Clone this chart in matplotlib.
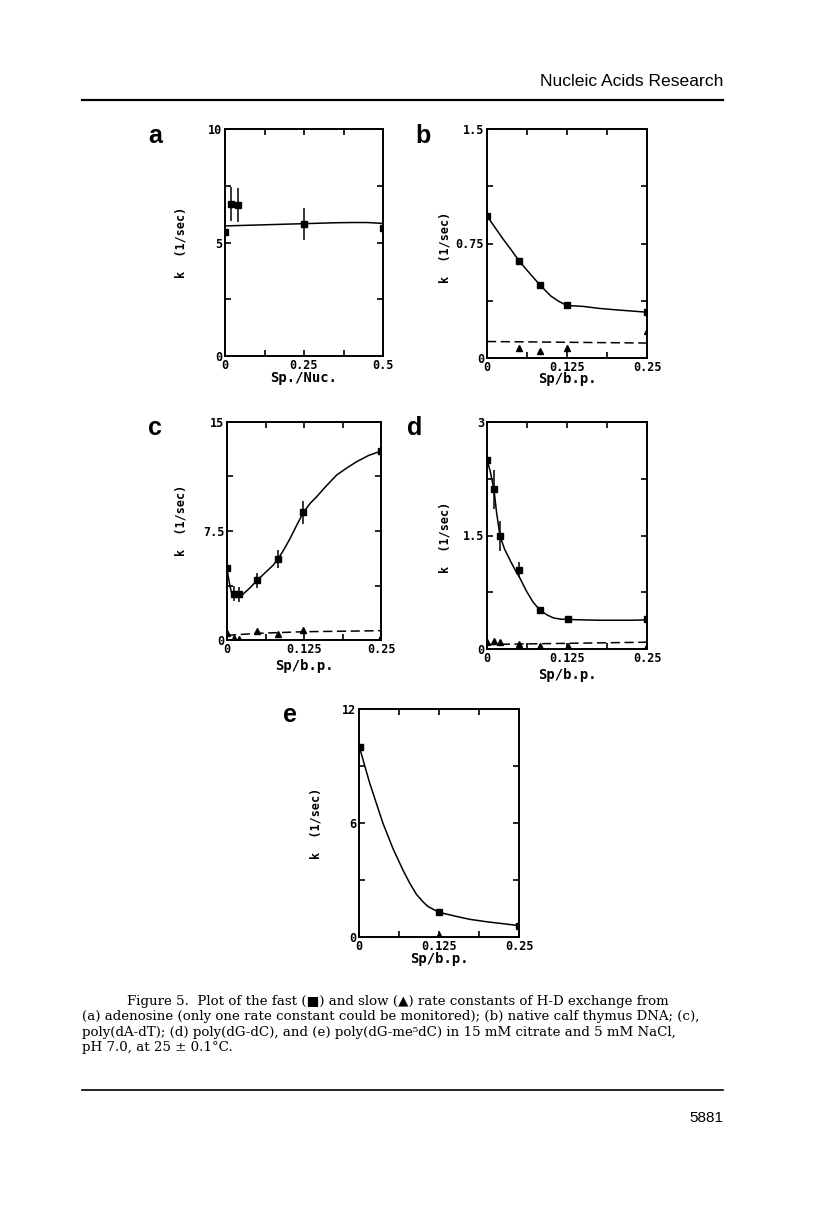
import matplotlib
matplotlib.use('Agg')
import matplotlib.pyplot as plt
from matplotlib.lines import Line2D

W, H = 816, 1227

# ---- data ----
# (a) adenosine
a_sq_x = [0.0, 0.018, 0.04, 0.25, 0.5]
a_sq_y = [5.46, 6.68, 6.64, 5.83, 5.64]
a_sq_err = [0, 0.75, 0.75, 0.7, 0]
a_fit_x = [0.0, 0.05, 0.1, 0.15, 0.2, 0.25, 0.3, 0.35, 0.4, 0.45, 0.5]
a_fit_y = [5.73, 5.75, 5.77, 5.79, 5.81, 5.83, 5.85, 5.87, 5.88, 5.88, 5.84]

# (b) calf thymus DNA
b_sq_x = [0.0, 0.05, 0.083, 0.125, 0.25]
b_sq_y = [0.93, 0.637, 0.477, 0.344, 0.30]
b_sq_err = [0, 0.02, 0, 0, 0]
b_tri_x = [0.05, 0.083, 0.125, 0.25]
b_tri_y = [0.065, 0.048, 0.068, 0.174]
b_fit_x = [0.0, 0.0125, 0.025, 0.0375, 0.05, 0.0625, 0.075, 0.083, 0.1, 0.1125,
           0.125, 0.15, 0.175, 0.2, 0.225, 0.25]
b_fit_y = [0.93, 0.855, 0.78, 0.71, 0.637, 0.575, 0.515, 0.477, 0.405, 0.37,
           0.344, 0.338, 0.325, 0.316, 0.308, 0.30]
b_slow_x = [0.0, 0.25]
b_slow_y = [0.108, 0.098]

# (c) poly(dA-dT)
c_sq_x = [0.0, 0.011, 0.0196, 0.049, 0.083, 0.124, 0.25]
c_sq_y = [4.94, 3.17, 3.15, 4.11, 5.58, 8.78, 13.0]
c_sq_err = [0, 0.52, 0.52, 0.52, 0.63, 0.8, 0]
c_tri_x = [0.0, 0.011, 0.0196, 0.049, 0.083, 0.124, 0.25]
c_tri_y = [0.46, 0.11, 0.09, 0.64, 0.44, 0.69, 0.23]
c_fit_x = [0.0, 0.004, 0.007, 0.012, 0.02, 0.026, 0.0375, 0.049, 0.0625, 0.075,
           0.083, 0.092, 0.102, 0.112, 0.124, 0.135, 0.1456, 0.16, 0.178, 0.195,
           0.2105, 0.23, 0.25]
c_fit_y = [4.9, 3.9, 3.3, 3.17, 3.15, 3.15, 3.6, 4.11, 4.65, 5.15,
           5.58, 6.2, 6.95, 7.8, 8.78, 9.4, 9.86, 10.55, 11.35, 11.85,
           12.27, 12.7, 13.0]
c_slow_x = [0.0, 0.05, 0.125, 0.25]
c_slow_y = [0.32, 0.46, 0.57, 0.64]

# (d) poly(dG-dC)
d_sq_x = [0.0, 0.011, 0.0204, 0.0497, 0.083, 0.126, 0.25]
d_sq_y = [2.50, 2.11, 1.49, 1.05, 0.51, 0.39, 0.39]
d_sq_err = [0, 0.26, 0.2, 0.1, 0, 0, 0]
d_tri_x = [0.0, 0.011, 0.0204, 0.0497, 0.083, 0.126, 0.25]
d_tri_y = [0.09, 0.10, 0.09, 0.07, 0.035, 0.035, 0.035]
d_fit_x = [0.0, 0.005, 0.011, 0.015, 0.0204, 0.0275, 0.0356, 0.043, 0.05, 0.062,
           0.072, 0.083, 0.094, 0.104, 0.115, 0.126, 0.15, 0.175, 0.2, 0.225, 0.25]
d_fit_y = [2.5, 2.35, 2.1, 1.8, 1.49, 1.32, 1.18, 1.06, 0.96, 0.76,
           0.62, 0.51, 0.45, 0.41, 0.395, 0.39, 0.385, 0.38, 0.38, 0.38, 0.385]
d_slow_x = [0.0, 0.25]
d_slow_y = [0.06, 0.09]

# (e) poly(dG-me5dC)
e_sq_x = [0.002, 0.125, 0.25]
e_sq_y = [9.98, 1.30, 0.60]
e_tri_x = [0.125]
e_tri_y = [0.12]
e_fit_x = [0.002, 0.0167, 0.0375, 0.053, 0.069, 0.079, 0.0896, 0.1, 0.108, 0.125,
           0.15, 0.173, 0.2, 0.225, 0.25]
e_fit_y = [9.84, 8.1, 5.98, 4.66, 3.5, 2.85, 2.25, 1.85, 1.6, 1.3,
           1.1, 0.93, 0.8, 0.7, 0.6]

mono = 'DejaVu Sans Mono'

fig = plt.figure(figsize=(W / 100, H / 100), dpi=100)


def box(x0, y0, x1, y1):
    # pixel box -> figure fraction rect
    return [x0 / W, 1 - y1 / H, (x1 - x0) / W, (y1 - y0) / H]


def panel(rect, xmax, ymax, xlab_list, ylab_list, xlabel, ylab_xy, xlab_y):
    ax = fig.add_axes(rect)
    ax.set_xlim(0, xmax)
    ax.set_ylim(0, ymax)
    ax.set_xticks([xmax * i / 4 for i in range(5)])
    ax.set_yticks([ymax * i / 4 for i in range(5)])
    ax.set_xticklabels(xlab_list)
    ax.set_yticklabels(ylab_list)
    ax.tick_params(direction='in', top=True, right=True, length=4, width=1.2,
                   labelsize=8.5, pad=2)
    for lab in ax.get_xticklabels() + ax.get_yticklabels():
        lab.set_family(mono)
        lab.set_weight('bold')
    for s in ax.spines.values():
        s.set_linewidth(1.4)
    ax.set_xlabel(xlabel, family=mono, weight='bold', fontsize=10)
    ax.set_ylabel('k  (1/sec)', family=mono, weight='bold', fontsize=8.5)
    ax.xaxis.set_label_coords(0.5, xlab_y)
    ax.yaxis.set_label_coords(*ylab_xy)
    return ax


def fast(ax, x, y, err=None):
    if err is not None:
        ax.errorbar(x, y, yerr=err, fmt='none', ecolor='black', elinewidth=1.1,
                    capsize=0)
    ax.plot(x, y, 's', color='black', markersize=4.5)


def slow(ax, x, y):
    ax.plot(x, y, '^', color='black', markersize=5)


ax_a = panel(box(225, 129, 383, 356), 0.5, 10, ['0', '', '0.25', '', '0.5'],
             ['0', '', '5', '', '10'], 'Sp./Nuc.', (-0.24, 0.5), -0.065)
ax_a.plot(a_fit_x, a_fit_y, color='black', lw=1.1)
fast(ax_a, a_sq_x, a_sq_y, a_sq_err)

ax_b = panel(box(487, 129, 647, 358), 0.25, 1.5, ['0', '', '0.125', '', '0.25'],
             ['0', '', '0.75', '', '1.5'], 'Sp/b.p.', (-0.22, 0.485), -0.06)
ax_b.plot(b_fit_x, b_fit_y, color='black', lw=1.1)
ax_b.plot(b_slow_x, b_slow_y, color='black', lw=1.1, dashes=(6, 3))
fast(ax_b, b_sq_x, b_sq_y, b_sq_err)
slow(ax_b, b_tri_x, b_tri_y)

ax_c = panel(box(227, 422, 381, 640), 0.25, 15, ['0', '', '0.125', '', '0.25'],
             ['0', '', '7.5', '', '15'], 'Sp/b.p.', (-0.255, 0.55), -0.085)
ax_c.plot(c_fit_x, c_fit_y, color='black', lw=1.1)
ax_c.plot(c_slow_x, c_slow_y, color='black', lw=1.1, dashes=(6, 3))
fast(ax_c, c_sq_x, c_sq_y, c_sq_err)
slow(ax_c, c_tri_x, c_tri_y)

ax_d = panel(box(487, 422, 647, 649), 0.25, 3, ['0', '', '0.125', '', '0.25'],
             ['0', '', '1.5', '', '3'], 'Sp/b.p.', (-0.22, 0.49), -0.085)
ax_d.plot(d_fit_x, d_fit_y, color='black', lw=1.1)
ax_d.plot(d_slow_x, d_slow_y, color='black', lw=1.1, dashes=(6, 3))
fast(ax_d, d_sq_x, d_sq_y, d_sq_err)
slow(ax_d, d_tri_x, d_tri_y)

ax_e = panel(box(359, 709, 519, 937), 0.25, 12, ['0', '', '0.125', '', '0.25'],
             ['0', '', '6', '', '12'], 'Sp/b.p.', (-0.23, 0.5), -0.065)
ax_e.plot(e_fit_x, e_fit_y, color='black', lw=1.1)
fast(ax_e, e_sq_x, e_sq_y)
slow(ax_e, e_tri_x, e_tri_y)

# panel letters
for letter, (px, py) in zip('abcde', [(148, 143), (415, 143), (148, 435),
                                      (407, 435), (283, 722)]):
    fig.text(px / W, 1 - py / H, letter, family='Liberation Sans', weight='bold',
             fontsize=18, ha='left', va='baseline')

# page furniture
fig.text(723 / W, 1 - 86 / H, 'Nucleic Acids Research', family='Liberation Sans',
         fontsize=12.6, ha='right', va='baseline')
fig.add_artist(Line2D([82 / W, 723 / W], [1 - 100 / H, 1 - 100 / H],
                      color='black', lw=1.6))
fig.add_artist(Line2D([82 / W, 723 / W], [1 - 1090 / H, 1 - 1090 / H],
                      color='black', lw=1.2))
fig.text(723 / W, 1 - 1122 / H, '5881', family='Liberation Sans', fontsize=11,
         ha='right', va='baseline')

cap_font = ['DejaVu Serif', 'DejaVu Sans']
caption = [
    (127, 1005, 'Figure 5.  Plot of the fast (\u25a0) and slow (\u25b2) rate constants of H-D exchange from'),
    (82, 1020, '(a) adenosine (only one rate constant could be monitored); (b) native calf thymus DNA; (c),'),
    (82, 1036, 'poly(dA-dT); (d) poly(dG-dC), and (e) poly(dG-me\u2075dC) in 15 mM citrate and 5 mM NaCl,'),
    (82, 1051, 'pH 7.0, at 25 \u00b1 0.1\u00b0C.'),
]
for px, py, line in caption:
    fig.text(px / W, 1 - py / H, line, family=cap_font, fontsize=9.6,
             ha='left', va='baseline')

fig.savefig('out.png', dpi=100)
